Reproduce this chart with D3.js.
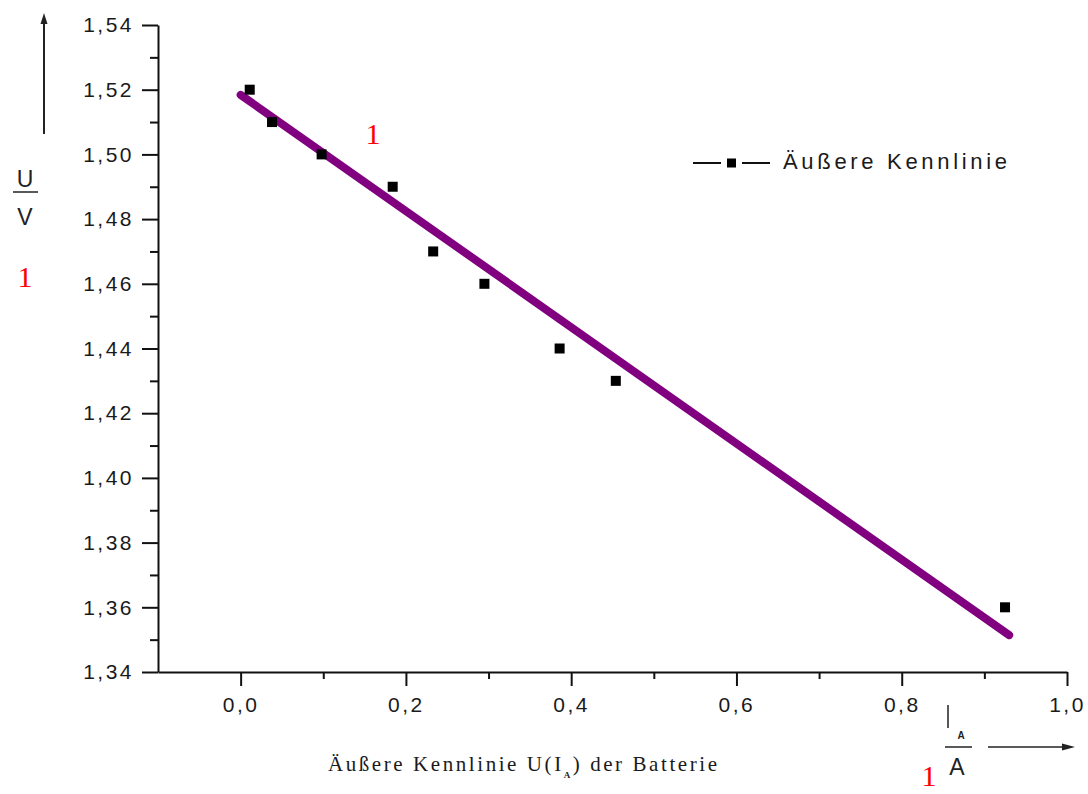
<!DOCTYPE html>
<html>
<head>
<meta charset="utf-8">
<script src="https://cdn.jsdelivr.net/npm/d3@7"></script>
<style>
  body { margin: 0; background: #fff; }
  svg { display: block; }
</style>
</head>
<body>
<svg id="chart"></svg>
<script>
const WIDTH = 1088;
const HEIGHT = 794;
const LEFT = 158;
const RIGHT = 1067;
const TOP = 25;
const BOTTOM = 672;

// measured points (I in A, U in V)
const currentA = [0.011, 0.038, 0.098, 0.184, 0.233, 0.295, 0.386, 0.454, 0.925];
const voltageV = [1.52, 1.51, 1.50, 1.49, 1.47, 1.46, 1.44, 1.43, 1.36];

// straight fit line, read at its two ends
const fitI = [0.0, 0.93];
const fitU = [1.5184, 1.3514];

const xTicks = [0.0, 0.2, 0.4, 0.6, 0.8, 1.0];
const xMinor = [0.1, 0.3, 0.5, 0.7, 0.9];
const yTicks = [1.34, 1.36, 1.38, 1.40, 1.42, 1.44, 1.46, 1.48, 1.50, 1.52, 1.54];
const yMinor = [1.35, 1.37, 1.39, 1.41, 1.43, 1.45, 1.47, 1.49, 1.51, 1.53];

const legendLabel = "Äußere Kennlinie";

const svg = d3.select("#chart").attr("width", WIDTH).attr("height", HEIGHT);

const xScale = d3.scaleLinear().domain([-0.1, 1.0]).range([LEFT, RIGHT]);
const yScale = d3.scaleLinear().domain([1.34, 1.54]).range([BOTTOM, TOP]);

const comma = d => d3.format(".1f")(d).replace(".", ",");
const comma2 = d => d3.format(".2f")(d).replace(".", ",");

const SANS = "Arial, 'Liberation Sans', sans-serif";

function styleAxis(g) {
  g.selectAll("path, line").attr("stroke", "#111").attr("stroke-width", 2);
  g.selectAll("text")
    .attr("fill", "#1a1a1a")
    .style("font-family", SANS)
    .style("font-size", "21px")
    .style("letter-spacing", "2.5px");
}

// y axis
svg.append("g")
  .attr("transform", "translate(" + LEFT + ",0)")
  .call(d3.axisLeft(yScale).tickValues(yMinor).tickSize(8).tickFormat("").tickSizeOuter(0))
  .call(g => g.select(".domain").remove())
  .call(styleAxis);
svg.append("g")
  .attr("transform", "translate(" + LEFT + ",0)")
  .call(d3.axisLeft(yScale).tickValues(yTicks).tickSize(16).tickPadding(8).tickFormat(comma2).tickSizeOuter(0))
  .call(styleAxis);

// x axis
svg.append("g")
  .attr("transform", "translate(0," + BOTTOM + ")")
  .call(d3.axisBottom(xScale).tickValues(xMinor).tickSize(7).tickFormat("").tickSizeOuter(0))
  .call(g => g.select(".domain").remove())
  .call(styleAxis);
svg.append("g")
  .attr("transform", "translate(0," + BOTTOM + ")")
  .call(d3.axisBottom(xScale).tickValues(xTicks).tickSize(14).tickPadding(11).tickFormat(comma).tickSizeOuter(0))
  .call(styleAxis);

// fit line
svg.append("path")
  .datum(d3.zip(fitI, fitU))
  .attr("d", d3.line().x(d => xScale(d[0])).y(d => yScale(d[1])))
  .attr("fill", "none")
  .attr("stroke", "#800080")
  .attr("stroke-width", 8)
  .attr("stroke-linecap", "round");

// data points
const SQ = 10;
svg.append("g").selectAll("rect")
  .data(d3.zip(currentA, voltageV))
  .enter()
  .append("rect")
  .attr("x", d => xScale(d[0]) - SQ / 2)
  .attr("y", d => yScale(d[1]) - SQ / 2)
  .attr("width", SQ)
  .attr("height", SQ)
  .attr("fill", "#000");

// legend
const legend = svg.append("g").attr("transform", "translate(693,163)");
legend.append("line").attr("x1", 0).attr("x2", 28).attr("stroke", "#111").attr("stroke-width", 2);
legend.append("line").attr("x1", 49).attr("x2", 77).attr("stroke", "#111").attr("stroke-width", 2);
legend.append("rect").attr("x", 34).attr("y", -4.5).attr("width", 9).attr("height", 9).attr("fill", "#000");
legend.append("text")
  .attr("x", 90).attr("y", 6)
  .attr("textLength", 224).attr("lengthAdjust", "spacing")
  .attr("fill", "#1a1a1a")
  .style("font-family", SANS)
  .style("font-size", "22px")
  .text(legendLabel);

// y axis unit label with arrow
const ink = "#222";
svg.append("line").attr("x1", 44).attr("x2", 44).attr("y1", 134).attr("y2", 22)
  .attr("stroke", ink).attr("stroke-width", 2);
svg.append("path").attr("d", "M44,13 L40.5,24 L47.5,24 Z").attr("fill", ink);
svg.append("text").attr("x", 25).attr("y", 187).attr("text-anchor", "middle")
  .attr("fill", ink).style("font-family", SANS).style("font-size", "23px").text("U");
svg.append("line").attr("x1", 13).attr("x2", 38).attr("y1", 192).attr("y2", 192)
  .attr("stroke", ink).attr("stroke-width", 1.5);
svg.append("text").attr("x", 25).attr("y", 225).attr("text-anchor", "middle")
  .attr("fill", ink).style("font-family", SANS).style("font-size", "23px").text("V");

// x axis unit label with arrow
svg.append("line").attr("x1", 948).attr("x2", 948).attr("y1", 705).attr("y2", 728)
  .attr("stroke", ink).attr("stroke-width", 1.5);
svg.append("text").attr("x", 961).attr("y", 739).attr("text-anchor", "middle")
  .attr("fill", ink).style("font-family", SANS).style("font-size", "10px")
  .style("font-weight", "bold").text("A");
svg.append("line").attr("x1", 945).attr("x2", 972).attr("y1", 747).attr("y2", 747)
  .attr("stroke", ink).attr("stroke-width", 1.5);
svg.append("text").attr("x", 957).attr("y", 775).attr("text-anchor", "middle")
  .attr("fill", ink).style("font-family", SANS).style("font-size", "23px").text("A");
svg.append("line").attr("x1", 988).attr("x2", 1064).attr("y1", 747).attr("y2", 747)
  .attr("stroke", ink).attr("stroke-width", 1.5);
svg.append("path").attr("d", "M1075,747 L1062,743.5 L1062,750.5 Z").attr("fill", ink);

// x axis caption
const caption = svg.append("text")
  .attr("x", 328).attr("y", 771)
  .attr("textLength", 389).attr("lengthAdjust", "spacing")
  .attr("fill", "#1a1a1a")
  .style("font-family", "'Liberation Serif', 'Times New Roman', serif")
  .style("font-size", "21px");
caption.append("tspan").text("Äußere Kennlinie U(I");
caption.append("tspan").attr("dy", 7).style("font-size", "9px").style("font-weight", "bold").text("A");
caption.append("tspan").attr("dy", -7).text(") der Batterie");

// stray red marks
const redOnes = [[25, 287], [373, 144], [929, 786]];
svg.append("g").selectAll("text")
  .data(redOnes)
  .enter()
  .append("text")
  .attr("x", d => d[0]).attr("y", d => d[1])
  .attr("text-anchor", "middle")
  .attr("fill", "#ff0000")
  .style("font-family", "'Liberation Serif', 'Times New Roman', serif")
  .style("font-size", "30px")
  .text("1");
</script>
</body>
</html>
